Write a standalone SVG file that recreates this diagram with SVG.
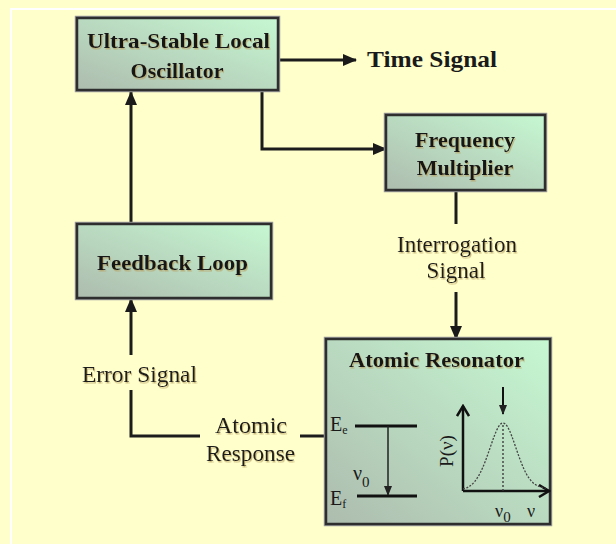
<svg xmlns="http://www.w3.org/2000/svg" width="616" height="544" viewBox="0 0 616 544">
<defs>
<linearGradient id="boxg" x1="1" y1="0" x2="0" y2="1">
<stop offset="0" stop-color="#c6f8d2"/>
<stop offset="1" stop-color="#adbcae"/>
</linearGradient>
<filter id="sh" x="-5%" y="-20%" width="110%" height="140%">
<feDropShadow dx="1" dy="1.5" stdDeviation="0.3" flood-color="#b8a060" flood-opacity="0.7"/>
</filter>
<marker id="ah" markerUnits="userSpaceOnUse" markerWidth="14" markerHeight="12" refX="13" refY="6" orient="auto">
<path d="M0,0 L14,6 L0,12 z" fill="#1a1a1a"/>
</marker>
<marker id="ahs" markerUnits="userSpaceOnUse" markerWidth="10" markerHeight="8" refX="9" refY="4" orient="auto">
<path d="M0,0 L10,4 L0,8 z" fill="#222"/>
</marker>
<marker id="chev" markerUnits="userSpaceOnUse" markerWidth="14" markerHeight="14" refX="12" refY="7" orient="auto">
<path d="M2,1 L12,7 L2,13" fill="none" stroke="#111" stroke-width="2.5"/>
</marker>
</defs>
<style>
.box{fill:url(#boxg);stroke:#2e2e2e;stroke-width:2.5}
.halo{fill:none;stroke:#9a9a9a;stroke-width:4.5}
.bt{font-family:"Liberation Serif","Times New Roman",serif;font-size:22px;font-weight:bold;fill:#151515;filter:url(#sh)}
.lt{font-family:"Liberation Serif","Times New Roman",serif;font-size:23px;fill:#1a1a1a;filter:url(#sh)}
.st{font-family:"Liberation Serif","Times New Roman",serif;fill:#1a1a1a}
.conn{fill:none;stroke:#1c1c1c;stroke-width:3}
</style>
<rect x="0" y="0" width="616" height="544" fill="#ffffcc"/>
<path d="M11,544 L11,9 L616,9" fill="none" stroke="#ffffff" stroke-width="2"/>

<g id="connectors">
<line class="conn" x1="278" y1="60" x2="356" y2="60" marker-end="url(#ah)"/>
<text class="st" x="367" y="67" font-size="24" font-weight="bold" textLength="130" lengthAdjust="spacingAndGlyphs">Time Signal</text>
<polyline class="conn" points="262,90 262,149 386,149" marker-end="url(#ah)"/>
<line class="conn" x1="456" y1="190" x2="456" y2="224"/>
<text class="lt" x="397" y="252" textLength="120" lengthAdjust="spacingAndGlyphs">Interrogation</text>
<text class="lt" x="456" y="278" text-anchor="middle">Signal</text>
<line class="conn" x1="456" y1="292" x2="456" y2="339" marker-end="url(#ah)"/>
<line class="conn" x1="131" y1="224" x2="131" y2="92" marker-end="url(#ah)"/>
<line class="conn" x1="326" y1="436" x2="300" y2="436"/>
<text class="lt" x="215" y="433" textLength="72" lengthAdjust="spacingAndGlyphs">Atomic</text>
<text class="lt" x="206" y="461" textLength="89" lengthAdjust="spacingAndGlyphs">Response</text>
<polyline class="conn" points="200,436 131,436 131,390"/>
<text class="lt" x="82" y="382" textLength="115" lengthAdjust="spacingAndGlyphs">Error Signal</text>
<line class="conn" x1="131" y1="355" x2="131" y2="299" marker-end="url(#ah)"/>
</g>

<g id="oscillator">
<rect class="halo" x="77" y="18" width="201" height="72"/>
<rect class="box" x="77" y="18" width="201" height="72"/>
<text class="bt" x="87" y="48" textLength="183" lengthAdjust="spacingAndGlyphs">Ultra-Stable Local</text>
<text class="bt" x="177" y="78" text-anchor="middle">Oscillator</text>
</g>

<g id="multiplier">
<rect class="halo" x="386" y="115" width="159" height="75"/>
<rect class="box" x="386" y="115" width="159" height="75"/>
<text class="bt" x="465" y="147" text-anchor="middle">Frequency</text>
<text class="bt" x="465" y="175" text-anchor="middle">Multiplier</text>
</g>

<g id="feedback">
<rect class="halo" x="77" y="224" width="194" height="74"/>
<rect class="box" x="77" y="224" width="194" height="74"/>
<text class="bt" x="97" y="270" textLength="151" lengthAdjust="spacingAndGlyphs">Feedback Loop</text>
</g>

<g id="resonator">
<rect class="halo" x="326" y="339" width="224" height="185"/>
<rect class="box" x="326" y="339" width="224" height="185"/>
<text class="bt" x="349" y="367" textLength="175" lengthAdjust="spacingAndGlyphs">Atomic Resonator</text>
<line x1="355" y1="426" x2="417" y2="426" stroke="#111" stroke-width="3"/>
<line x1="357" y1="496" x2="417" y2="496" stroke="#111" stroke-width="3"/>
<line x1="388" y1="426" x2="388" y2="495" stroke="#222" stroke-width="1.5" marker-end="url(#ahs)"/>
<text class="st" x="330" y="431" font-size="20">E<tspan font-size="12" dy="3">e</tspan></text>
<text class="st" x="330" y="505" font-size="20">E<tspan font-size="12" dy="3">f</tspan></text>
<text class="st" x="353" y="480" font-size="20">ν<tspan font-size="15" dy="7">0</tspan></text>
<line x1="463" y1="491" x2="463" y2="406" stroke="#111" stroke-width="2.5" marker-end="url(#chev)"/>
<line x1="463" y1="491" x2="549" y2="491" stroke="#111" stroke-width="2.5" marker-end="url(#chev)"/>
<path d="M463,489 C472,487 478,480 485,462 C492,444 497,423 503,423 C509,423 514,444 521,462 C528,480 534,487 546,488" fill="none" stroke="#444" stroke-width="1.3" stroke-dasharray="2,1.5"/>
<line x1="503" y1="425" x2="503" y2="491" stroke="#333" stroke-width="1.3" stroke-dasharray="2,2"/>
<line x1="503" y1="387" x2="503" y2="414" stroke="#111" stroke-width="2" marker-end="url(#ahs)"/>
<text class="st" x="0" y="0" font-size="19" text-anchor="middle" transform="translate(453,451) rotate(-90)">P(ν)</text>
<text class="st" x="495" y="517" font-size="18">ν<tspan font-size="15" dy="5">0</tspan></text>
<text class="st" x="527" y="517" font-size="18">ν</text>
</g>
</svg>
